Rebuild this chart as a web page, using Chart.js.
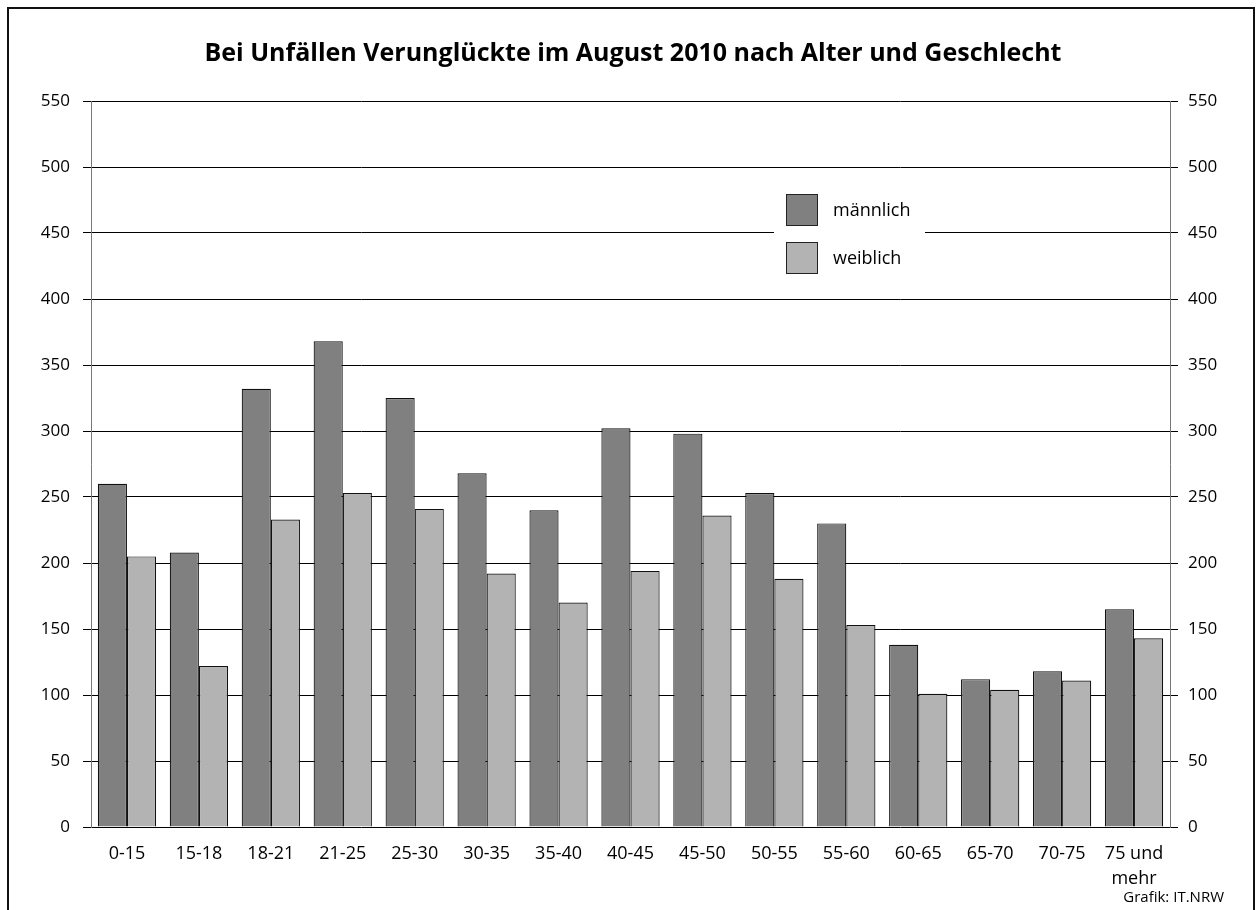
<!DOCTYPE html>
<html>
<head>
<meta charset="utf-8">
<script src="https://cdn.jsdelivr.net/npm/chart.js@4"></script>
<style>
    html, body { margin: 0; padding: 0; background: #fff; overflow: hidden; }
    .frame {
        position: absolute; left: 7px; top: 7px; width: 1244px; height: 960px;
        border: 2px solid #111; border-bottom: none;
    }
    canvas { position: absolute; left: 0; top: 0; }
</style>
</head>
<body>
<div class="frame"></div>
<canvas id="unfallChart" width="1257" height="910"></canvas>
<script>
const ageGroups = ['0-15', '15-18', '18-21', '21-25', '25-30', '30-35', '35-40', '40-45',
    '45-50', '50-55', '55-60', '60-65', '65-70', '70-75', ['75 und', 'mehr']];
const maleValues = [260, 208, 332, 368, 325, 268, 240, 302, 298, 253, 230, 138, 112, 118, 165];
const femaleValues = [205, 122, 233, 253, 241, 192, 170, 194, 236, 188, 153, 101, 104, 111, 143];
const seriesNames = ['männlich', 'weiblich'];
const titleText = 'Bei Unfällen Verunglückte im August 2010 nach Alter und Geschlecht';
const sourceText = 'Grafik: IT.NRW';

const FONT = '"Open Sans", "Noto Sans", sans-serif';
const maleColor = '#808080';
const femaleColor = '#b3b3b3';

// title, source note and the boxed legend
const decorations = {
    id: 'decorations',
    afterDraw(chart) {
        const { ctx } = chart;
        ctx.save();
        ctx.fillStyle = '#000';
        ctx.font = 'bold 25px ' + FONT;
        ctx.textAlign = 'center';
        ctx.textBaseline = 'middle';
        ctx.fillText(titleText, 633, 54);

        ctx.font = '15px ' + FONT;
        ctx.textAlign = 'right';
        ctx.fillText(sourceText, 1224, 898);

        // legend box
        ctx.fillStyle = '#fff';
        ctx.fillRect(774, 180, 151, 106);
        const colors = [maleColor, femaleColor];
        seriesNames.forEach((name, i) => {
            const y = 194 + i * 48;
            ctx.fillStyle = colors[i];
            ctx.fillRect(786, y, 32, 32);
            ctx.strokeStyle = '#222';
            ctx.lineWidth = 1;
            ctx.strokeRect(786.5, y + 0.5, 31, 31);
            ctx.fillStyle = '#000';
            ctx.font = '18px ' + FONT;
            ctx.textAlign = 'left';
            ctx.fillText(name, 833, y + 17);
        });
        ctx.restore();
    }
};

new Chart(document.getElementById('unfallChart'), {
    type: 'bar',
    data: {
        labels: ageGroups,
        datasets: [
            {
                label: seriesNames[0],
                data: maleValues,
                backgroundColor: maleColor,
                borderColor: '#111',
                borderWidth: 1.2,
                borderSkipped: 'bottom',
                categoryPercentage: 0.81,
                barPercentage: 1.0,
            },
            {
                label: seriesNames[1],
                data: femaleValues,
                backgroundColor: femaleColor,
                borderColor: '#111',
                borderWidth: 1.2,
                borderSkipped: 'bottom',
                categoryPercentage: 0.81,
                barPercentage: 1.0,
            },
        ],
    },
    options: {
        responsive: false,
        animation: false,
        layout: { padding: { top: 101, left: 0, right: 0, bottom: 0 } },
        plugins: {
            legend: { display: false },
            title: { display: false },
            tooltip: { enabled: false },
        },
        scales: {
            x: {
                grid: { display: false },
                border: { display: false },
                ticks: {
                    color: '#000',
                    font: { family: FONT, size: 18, lineHeight: 1.35 },
                    padding: 7,
                    maxRotation: 0,
                    autoSkip: false,
                },
                afterFit: (scale) => { scale.height = 83; },
            },
            y: {
                position: 'left',
                min: 0,
                max: 550,
                grid: { color: '#000', lineWidth: 1, tickLength: 8 },
                border: { color: '#777', width: 1 },
                ticks: {
                    stepSize: 50,
                    color: '#000',
                    font: { family: FONT, size: 17 },
                    padding: 13,
                },
                afterFit: (scale) => { scale.width = 91; },
            },
            yRight: {
                position: 'right',
                min: 0,
                max: 550,
                grid: { drawOnChartArea: false, color: '#000', tickLength: 8 },
                border: { color: '#777', width: 1 },
                ticks: {
                    stepSize: 50,
                    color: '#000',
                    font: { family: FONT, size: 17 },
                    padding: 10,
                },
                afterFit: (scale) => { scale.width = 87; },
            },
        },
    },
    plugins: [decorations],
});
</script>
</body>
</html>
